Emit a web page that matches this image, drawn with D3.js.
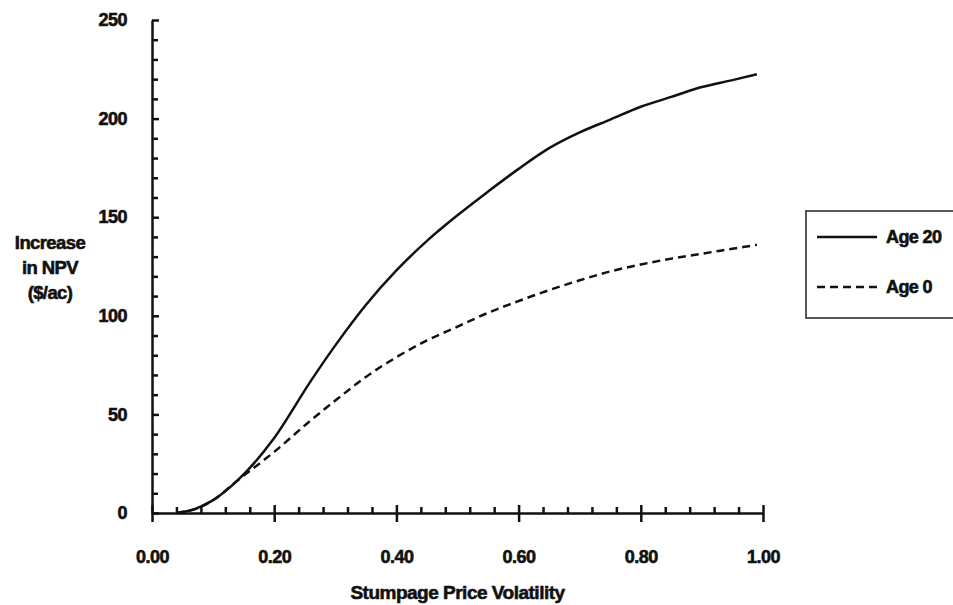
<!DOCTYPE html>
<html>
<head>
<meta charset="utf-8">
<script src="https://cdn.jsdelivr.net/npm/d3@7"></script>
<style>
  body { margin: 0; background: #fff; }
  svg text { font-family: "Liberation Sans", Arial, sans-serif; font-weight: bold; fill: #111; stroke: #111; stroke-width: 0.6px; }
</style>
</head>
<body>
<svg id="chart" width="953" height="605"></svg>
<script>
// values
const volatility = [0.04, 0.07, 0.10, 0.14, 0.20, 0.26, 0.30, 0.35, 0.40, 0.45, 0.50, 0.55, 0.60, 0.65, 0.70, 0.75, 0.80, 0.85, 0.90, 0.95, 0.99];
const age20 = [0, 2, 6.5, 16.5, 38, 67, 85, 105.5, 123, 138, 151, 163, 174.5, 185, 193, 199.5, 206, 211, 216, 219.5, 222.5];
const age0 = [0, 2, 6.5, 16.5, 31, 47, 57, 69, 79, 87.5, 94.5, 101.5, 107.5, 113, 118, 122.5, 126, 129, 131.5, 134, 136];

const yMajor = [0, 50, 100, 150, 200, 250];
const xMajor = [0, 0.2, 0.4, 0.6, 0.8, 1.0];
const legendLabels = ["Age 20", "Age 0"];

const svg = d3.select("#chart");

const x = d3.scaleLinear().domain([0, 1]).range([152, 763]);
const y = d3.scaleLinear().domain([0, 250]).range([513, 20]);

// y axis: major ticks cross the line, minor ticks on the right
const yAxis = svg.append("g")
  .attr("transform", "translate(" + x(0) + ",0)")
  .call(d3.axisLeft(y).tickValues(yMajor).tickSizeInner(9).tickSizeOuter(0).tickPadding(16));
yAxis.selectAll(".tick line").attr("x2", 7);

svg.append("g")
  .attr("transform", "translate(" + x(0) + ",0)")
  .call(d3.axisRight(y).tickValues(d3.range(0, 251, 10).filter(d => d % 50 != 0))
    .tickSizeInner(6).tickSizeOuter(0).tickFormat(""))
  .select(".domain").remove();

// x axis
const xAxis = svg.append("g")
  .attr("transform", "translate(0," + y(0) + ")")
  .call(d3.axisBottom(x).tickValues(xMajor).tickFormat(d3.format(".2f"))
    .tickSizeInner(9).tickSizeOuter(0).tickPadding(28));
xAxis.selectAll(".tick line").attr("y1", -8);

svg.append("g")
  .attr("transform", "translate(0," + y(0) + ")")
  .call(d3.axisTop(x).tickValues(d3.range(0.04, 1, 0.04).filter(d => Math.abs(d * 5 - Math.round(d * 5)) > 0.01))
    .tickSizeInner(6).tickSizeOuter(0).tickFormat(""))
  .select(".domain").remove();

svg.selectAll(".domain, .tick line").attr("stroke", "#111").attr("stroke-width", 2.5);
svg.selectAll(".tick text")
  .style("font-size", "18px")
  .style("letter-spacing", "-0.5px")
  .style("font-family", "'Liberation Sans', Arial, sans-serif")
  .style("font-weight", "bold")
  .attr("fill", "#111");

// axis titles
svg.append("text")
  .attr("x", x(0.5)).attr("y", 599)
  .attr("text-anchor", "middle")
  .style("font-size", "19px").style("letter-spacing", "-0.5px")
  .text("Stumpage Price Volatility");

const yTitle = svg.append("text")
  .attr("text-anchor", "middle")
  .style("font-size", "18.5px").style("letter-spacing", "-0.6px");
["Increase", "in NPV", "($/ac)"].forEach((t, i) => {
  yTitle.append("tspan").attr("x", 50).attr("y", 249 + i * 25).text(t);
});

// curves
const line = d3.line()
  .x(d => x(d[0]))
  .y(d => y(d[1]))
  .curve(d3.curveMonotoneX);

svg.append("path")
  .datum(volatility.map((v, i) => [v, age0[i]]))
  .attr("d", line)
  .attr("fill", "none")
  .attr("stroke", "#111")
  .attr("stroke-width", 2.5)
  .attr("stroke-dasharray", "8,5");

svg.append("path")
  .datum(volatility.map((v, i) => [v, age20[i]]))
  .attr("d", line)
  .attr("fill", "none")
  .attr("stroke", "#111")
  .attr("stroke-width", 2.5);

// legend, the box runs off the right edge like in the scan
const legend = svg.append("g").attr("transform", "translate(806,211)");
legend.append("rect")
  .attr("width", 170).attr("height", 107)
  .attr("fill", "#fff")
  .attr("stroke", "#222")
  .attr("stroke-width", 1.5);

legendLabels.forEach((lab, i) => {
  const ly = 26 + i * 50;
  legend.append("line")
    .attr("x1", 11).attr("x2", 71)
    .attr("y1", ly).attr("y2", ly)
    .attr("stroke", "#111")
    .attr("stroke-width", 2.5)
    .attr("stroke-dasharray", i == 1 ? "8,5" : null);
  legend.append("text")
    .attr("x", 80).attr("y", ly + 6)
    .style("font-size", "18px").style("letter-spacing", "-0.6px")
    .text(lab);
});
</script>
</body>
</html>
